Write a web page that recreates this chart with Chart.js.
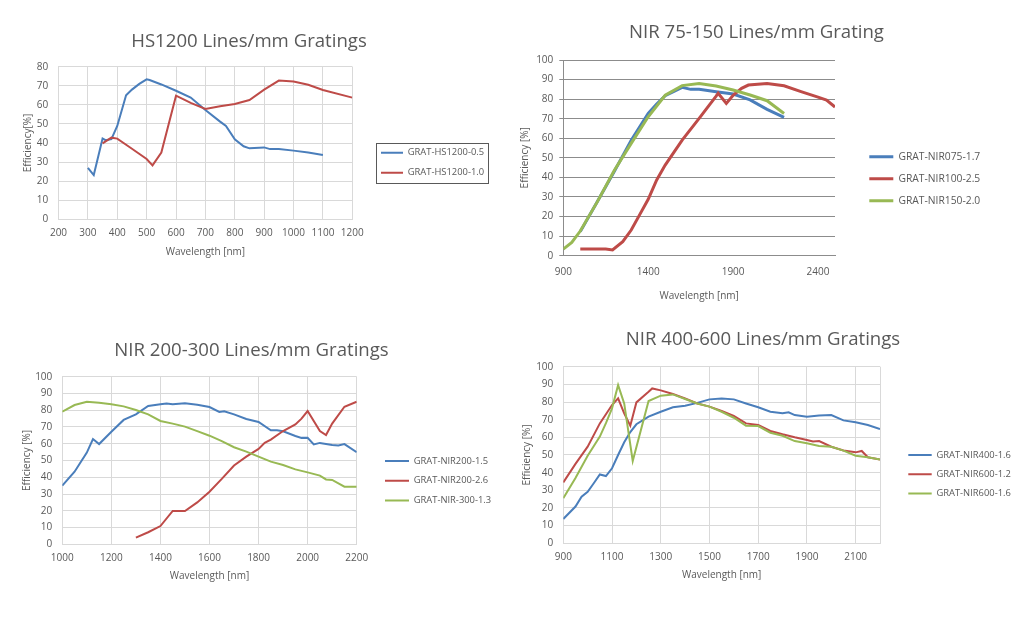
<!DOCTYPE html>
<html>
<head>
<meta charset="utf-8">
<title>Grating efficiency curves</title>
<script src="https://cdn.jsdelivr.net/npm/chart.js@4.4.1/dist/chart.umd.min.js"></script>
<style>
  html, body { margin: 0; padding: 0; background: #fff; }
  body { width: 1024px; height: 617px; position: relative; overflow: hidden; }
  canvas { position: absolute; }
</style>
</head>
<body>
<script>
// ==================== DATA ====================
// HS1200 Lines/mm
const hs05Wl  = [300, 320, 350, 360, 380, 400, 430, 450, 475, 500, 510, 550, 600, 650, 700, 750, 770, 800, 830, 850, 900, 920, 950, 1000, 1050, 1100];
const hs05Eff = [27, 23.2, 42.4, 41.5, 42, 48.9, 65, 68, 71, 73.4, 73, 70.7, 67.4, 63.8, 57.3, 51.2, 48.9, 41.9, 38.3, 37.2, 37.7, 36.8, 36.8, 36, 35, 33.7];
const hs10Wl  = [350, 380, 400, 450, 500, 520, 550, 600, 650, 700, 750, 800, 850, 900, 950, 1000, 1050, 1100, 1200];
const hs10Eff = [39.8, 42.8, 42.3, 37, 31.6, 28.3, 35, 64.8, 61, 57.8, 59.3, 60.4, 62.5, 68, 72.7, 72.2, 70.5, 67.8, 63.8];

// NIR 75-150 Lines/mm
const nir075Wl  = [1000, 1100, 1200, 1300, 1400, 1450, 1500, 1600, 1650, 1700, 1800, 1900, 2000, 2100, 2200];
const nir075Eff = [12.3, 27.6, 43, 59, 72.7, 77.5, 81.8, 86, 85, 85, 83.8, 82.6, 79.6, 74.8, 70.7];
const nir100Wl  = [1000, 1100, 1150, 1190, 1250, 1300, 1350, 1400, 1450, 1500, 1600, 1700, 1800, 1812, 1860, 1900, 1950, 1990, 2100, 2200, 2300, 2400, 2450, 2500];
const nir100Eff = [3.4, 3.4, 3.4, 2.9, 7.2, 13.1, 21, 28.8, 38.7, 46.3, 59.1, 70.2, 81.5, 83, 77.8, 82, 85.5, 87.2, 88, 86.8, 83.8, 81, 79.5, 76];
const nir150Wl  = [900, 950, 1000, 1100, 1200, 1300, 1400, 1500, 1600, 1700, 1800, 1900, 2000, 2100, 2200];
const nir150Eff = [3.4, 6.8, 12.6, 27.5, 43.5, 57.4, 71, 82, 86.9, 88, 86.7, 84.7, 82.1, 79.2, 72.7];

// NIR 200-300 Lines/mm
const nir20015Wl  = [1000, 1050, 1100, 1125, 1150, 1200, 1250, 1300, 1350, 1400, 1425, 1450, 1500, 1550, 1600, 1640, 1660, 1700, 1750, 1800, 1850, 1875, 1900, 1950, 1975, 2000, 2025, 2050, 2100, 2125, 2150, 2200];
const nir20015Eff = [35, 43.3, 54.7, 62.8, 59.8, 67.2, 74.2, 77.5, 82.5, 83.5, 84, 83.5, 84.1, 83.3, 81.9, 79, 79.4, 77.5, 74.8, 73, 68, 68, 67.4, 64.6, 63.5, 63.6, 59.6, 60.5, 59.2, 59, 59.8, 54.9];
const nir20026Wl  = [1300, 1350, 1400, 1450, 1500, 1550, 1600, 1650, 1700, 1750, 1800, 1825, 1850, 1900, 1950, 1975, 2000, 2050, 2075, 2100, 2150, 2200];
const nir20026Eff = [4, 7.2, 10.9, 19.9, 19.9, 25, 31.4, 39, 47, 52.3, 56.9, 60.5, 62.5, 67.6, 71.5, 75, 79.5, 67.6, 65.2, 72, 82.1, 85.1];
const nir300Wl  = [1000, 1050, 1100, 1150, 1200, 1250, 1300, 1350, 1400, 1450, 1500, 1550, 1600, 1650, 1700, 1750, 1800, 1850, 1900, 1950, 2000, 2050, 2075, 2100, 2150, 2200];
const nir300Eff = [79.1, 83.1, 85.1, 84.5, 83.5, 82.3, 80.1, 77.5, 73.6, 72, 70.2, 67.5, 64.8, 61.6, 57.9, 55.3, 52.3, 49.3, 47.3, 44.7, 42.9, 41, 38.7, 38.4, 34.4, 34.4];

// NIR 400-600 Lines/mm
const nir400Wl  = [900, 950, 975, 1000, 1025, 1050, 1075, 1100, 1125, 1150, 1175, 1200, 1250, 1300, 1350, 1400, 1450, 1500, 1550, 1600, 1650, 1700, 1750, 1800, 1825, 1850, 1900, 1950, 2000, 2050, 2100, 2150, 2200];
const nir400Eff = [13.8, 20.8, 26.4, 29.2, 34, 39, 38.1, 42.5, 50, 57.2, 63, 67.4, 71.7, 74.5, 77, 77.9, 79.5, 81.5, 82, 81.5, 79.2, 77, 74.5, 73.6, 74.2, 72.6, 71.7, 72.3, 72.6, 69.6, 68.5, 67, 64.7];
const nir60012Wl  = [900, 950, 1000, 1050, 1100, 1125, 1150, 1175, 1200, 1250, 1265, 1300, 1350, 1400, 1450, 1500, 1550, 1600, 1650, 1700, 1750, 1800, 1850, 1900, 1925, 1950, 2000, 2050, 2100, 2125, 2150, 2200];
const nir60012Eff = [34.5, 45, 54.7, 67.9, 78.3, 82.1, 73.6, 66.6, 79.8, 85.8, 87.7, 86.6, 84.5, 82, 79.2, 77.4, 74.9, 72.1, 67.9, 67, 63.6, 61.7, 60, 58.5, 57.7, 57.9, 54.7, 52.6, 51.5, 52.3, 48.7, 47.5];
const nir60016Wl  = [900, 950, 1000, 1050, 1075, 1100, 1125, 1150, 1185, 1250, 1300, 1350, 1400, 1450, 1500, 1550, 1600, 1650, 1700, 1750, 1800, 1850, 1900, 1950, 2000, 2050, 2100, 2150, 2200];
const nir60016Eff = [25.5, 37, 49.6, 60.4, 68, 76.4, 89.6, 79.2, 46.6, 80.6, 83.6, 84.3, 81.7, 79.2, 77.4, 74.5, 71.1, 66.6, 66.4, 62.6, 60.9, 57.9, 56.6, 55.1, 54.7, 52.5, 49.6, 48.7, 47.5];

// Axis ticks
const hsTicks = [200, 300, 400, 500, 600, 700, 800, 900, 1000, 1100, 1200];
const nir75Ticks = [900, 1400, 1900, 2400];
const nir200Ticks = [1000, 1200, 1400, 1600, 1800, 2000, 2200];
const nir400Ticks = [900, 1100, 1300, 1500, 1700, 1900, 2100];

// ==================== STYLE ====================
const BLUE = '#4a7ebb';
const RED = '#be4b48';
const GREEN = '#98b954';
const TEXT = '#595959';
const LIGHT_GRID = '#d9d9d9';
const DARK_GRID = '#8c8c8c';

Chart.defaults.font.family = "'Open Sans', sans-serif";
Chart.defaults.font.size = 10;
Chart.defaults.color = TEXT;

function series(label, wl, eff, color, width) {
  return {
    label,
    data: wl.map((x, i) => ({ x, y: eff[i] })),
    borderColor: color,
    backgroundColor: color,
    borderWidth: width,
    pointRadius: 0,
    tension: 0,
    fill: false
  };
}

// Places one chart so that its plot area, title, axis titles and legend land
// where they are in the original figure (page coordinates).
function drawGratingChart(spec, datasets) {
  const FS = 10, LH = FS * 1.2, TS = 18.6, TLH = TS * 1.2;
  const lg = spec.legend;
  const LFS = lg.font;
  const pad = lg.step - LFS;
  const [pl, pt, pr, pb] = spec.plot;

  // legend box must hold the whole label text, otherwise it gets clipped
  const right = lg.x + lg.len + 112;
  const left = 2 * spec.titleX - right;
  const gap = lg.x - pr - pad;
  const legendW = right - pr - gap;
  const top = spec.titleY - TLH / 2;
  const bottom = 2 * (lg.y - LFS / 2) + datasets.length * (LFS + pad) - pad - top;

  const bx = Math.floor(left) - 4;
  const by = Math.floor(top) - 2;
  const bw = Math.ceil(right) + 4 - bx;
  const bh = Math.ceil(bottom) + 2 - by;

  const canvas = document.createElement('canvas');
  canvas.width = bw;
  canvas.height = bh;
  canvas.style.left = bx + 'px';
  canvas.style.top = by + 'px';
  canvas.style.width = bw + 'px';
  canvas.style.height = bh + 'px';
  document.body.appendChild(canvas);

  const n = datasets.length;
  datasets.forEach((d, i) => { d.order = n - i; });

  const xTicks = spec.xTicks.includes(spec.xMax) ? spec.xTicks : spec.xTicks.concat([spec.xMax]);

  const legendWidth = {
    id: 'legendWidth',
    beforeInit(chart) {
      const fit = chart.legend.fit;
      chart.legend.fit = function () {
        fit.call(this);
        this.width = legendW;
      };
    }
  };

  const legendFrame = {
    id: 'legendFrame',
    afterDraw(chart) {
      if (!spec.legendBox) return;
      const [x0, y0, x1, y1] = spec.legendBox;
      const ctx = chart.ctx;
      ctx.save();
      ctx.strokeStyle = '#595959';
      ctx.lineWidth = 1;
      ctx.strokeRect(Math.round(x0 - bx) + 0.5, Math.round(y0 - by) + 0.5, Math.round(x1 - x0), Math.round(y1 - y0));
      ctx.restore();
    }
  };

  return new Chart(canvas, {
    type: 'line',
    data: { datasets },
    plugins: [legendWidth, legendFrame],
    options: {
      responsive: false,
      animation: false,
      events: [],
      layout: {
        padding: { left: left - bx, top: top - by, right: bx + bw - right, bottom: by + bh - bottom }
      },
      plugins: {
        title: {
          display: true,
          text: spec.title,
          color: TEXT,
          font: { size: TS, weight: 'normal' },
          padding: { top: 0, bottom: pt - spec.titleY - TLH / 2 }
        },
        legend: {
          position: 'right',
          labels: {
            usePointStyle: true,
            pointStyle: 'line',
            pointStyleWidth: lg.len,
            padding: pad,
            color: TEXT,
            font: { size: LFS },
            sort: (a, b) => a.datasetIndex - b.datasetIndex
          }
        },
        tooltip: { enabled: false }
      },
      scales: {
        x: {
          type: 'linear',
          min: spec.xMin,
          max: spec.xMax,
          afterBuildTicks: s => { s.ticks = xTicks.map(v => ({ value: v })); },
          ticks: {
            autoSkip: false,
            maxRotation: 0,
            padding: spec.xLabelY - pb - LH / 2,
            callback: v => spec.xTicks.includes(v) ? String(v) : ''
          },
          grid: { display: spec.vGrid, color: spec.gridColor, drawTicks: false },
          border: { display: true, color: spec.gridColor },
          title: {
            display: true,
            text: 'Wavelength [nm]',
            padding: { top: 0, bottom: bottom - LH / 2 - spec.xTitleY }
          },
          afterFit: s => { s.height = bottom - pb; }
        },
        y: {
          type: 'linear',
          min: 0,
          max: spec.yMax,
          ticks: {
            stepSize: 10,
            padding: pl - spec.yLabelRight - (spec.tickMarks ? 4 : 0),
            callback: v => String(v)
          },
          grid: { color: spec.gridColor, drawTicks: spec.tickMarks, tickLength: 4 },
          border: { display: true, color: spec.gridColor },
          title: {
            display: true,
            text: spec.yTitle,
            padding: { top: spec.yTitleX - LH / 2 - left, bottom: 0 }
          },
          afterFit: s => { s.width = pl - left; }
        },
        gap: {
          type: 'linear',
          position: 'right',
          ticks: { display: false },
          grid: { display: false, drawTicks: false },
          border: { display: false },
          afterFit: s => { s.width = gap; }
        }
      }
    }
  });
}

// ==================== CHARTS ====================
drawGratingChart({
  title: 'HS1200 Lines/mm Gratings', titleX: 249, titleY: 41.5,
  plot: [58.5, 66.7, 352.3, 219.3],
  yTitle: 'Efficiency[%]', yTitleX: 28.3, yLabelRight: 48.3,
  xLabelY: 232.7, xTitleY: 251.7,
  legend: { x: 381, len: 22, y: 152.7, step: 20, font: 9.4 },
  legendBox: [376, 143.3, 488, 183.3],
  xMin: 200, xMax: 1200, xTicks: hsTicks, yMax: 80,
  gridColor: LIGHT_GRID, vGrid: true, tickMarks: false
}, [
  series('GRAT-HS1200-0.5', hs05Wl, hs05Eff, BLUE, 2),
  series('GRAT-HS1200-1.0', hs10Wl, hs10Eff, RED, 2)
]);

drawGratingChart({
  title: 'NIR 75-150 Lines/mm Grating', titleX: 756.5, titleY: 33,
  plot: [563.3, 60, 835, 255.7],
  yTitle: 'Efficiency [%]', yTitleX: 525, yLabelRight: 553.3,
  xLabelY: 271.7, xTitleY: 296,
  legend: { x: 869.3, len: 24, y: 156.7, step: 22, font: 10.3 },
  xMin: 900, xMax: 2500, xTicks: nir75Ticks, yMax: 100,
  gridColor: DARK_GRID, vGrid: false, tickMarks: true
}, [
  series('GRAT-NIR075-1.7', nir075Wl, nir075Eff, BLUE, 3),
  series('GRAT-NIR100-2.5', nir100Wl, nir100Eff, RED, 3),
  series('GRAT-NIR150-2.0', nir150Wl, nir150Eff, GREEN, 3)
]);

drawGratingChart({
  title: 'NIR 200-300 Lines/mm Gratings', titleX: 251.5, titleY: 351,
  plot: [62.3, 376.7, 356.7, 544.3],
  yTitle: 'Efficiency [%]', yTitleX: 26.7, yLabelRight: 52.3,
  xLabelY: 557.7, xTitleY: 575.7,
  legend: { x: 385, len: 24, y: 461, step: 19.8, font: 9.4 },
  xMin: 1000, xMax: 2200, xTicks: nir200Ticks, yMax: 100,
  gridColor: LIGHT_GRID, vGrid: true, tickMarks: false
}, [
  series('GRAT-NIR200-1.5', nir20015Wl, nir20015Eff, BLUE, 2),
  series('GRAT-NIR200-2.6', nir20026Wl, nir20026Eff, RED, 2),
  series('GRAT-NIR-300-1.3', nir300Wl, nir300Eff, GREEN, 2)
]);

drawGratingChart({
  title: 'NIR 400-600 Lines/mm Gratings', titleX: 763, titleY: 340,
  plot: [563.3, 366.7, 880, 543.3],
  yTitle: 'Efficiency [%]', yTitleX: 527.3, yLabelRight: 553.3,
  xLabelY: 556.7, xTitleY: 575,
  legend: { x: 908.3, len: 23.4, y: 455, step: 19.2, font: 9.4 },
  xMin: 900, xMax: 2200, xTicks: nir400Ticks, yMax: 100,
  gridColor: LIGHT_GRID, vGrid: true, tickMarks: false
}, [
  series('GRAT-NIR400-1.6', nir400Wl, nir400Eff, BLUE, 2),
  series('GRAT-NIR600-1.2', nir60012Wl, nir60012Eff, RED, 2),
  series('GRAT-NIR600-1.6', nir60016Wl, nir60016Eff, GREEN, 2)
]);
</script>
</body>
</html>
